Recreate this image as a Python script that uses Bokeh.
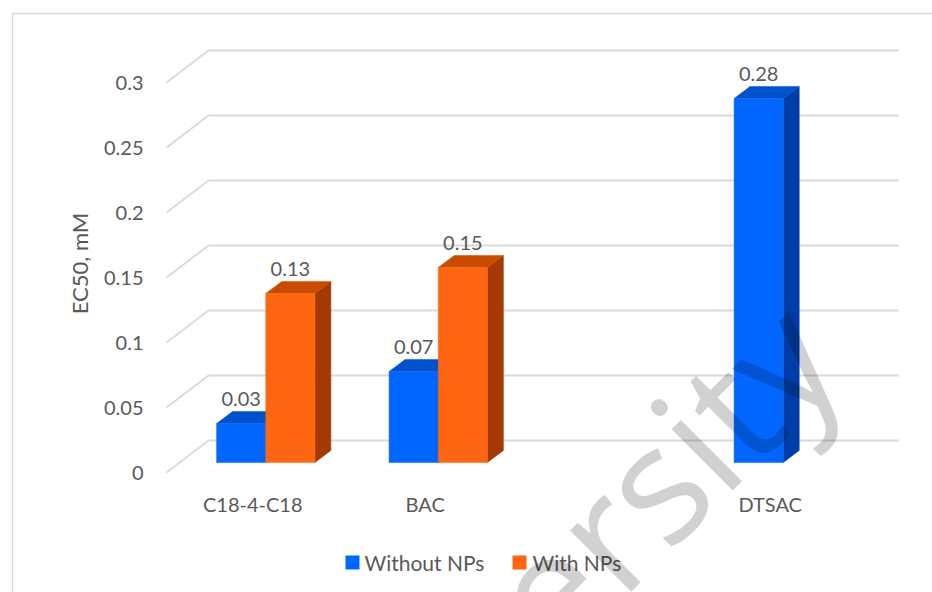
import math
from bokeh.plotting import figure
from bokeh.models import Range1d
from bokeh.core.properties import value
from bokeh.embed import file_html
from bokeh.resources import INLINE

# ---- data -------------------------------------------------------------
categories = ["C18-4-C18", "BAC", "", "DTSAC"]
without_nps = [0.03, 0.07, None, 0.28]
with_nps = [0.13, 0.15, None, None]
series_names = ["Without NPs", "With NPs"]
y_ticks = [0, 0.05, 0.1, 0.15, 0.2, 0.25, 0.3]
y_tick_labels = ["0", "0.05", "0.1", "0.15", "0.2", "0.25", "0.3"]
y_title = "EC50, mM"
watermark = "University"

# ---- layout / style ---------------------------------------------------
W, H = 932, 592
SLOT_PX = 172.5          # pixels per category slot
VAL_PX = 1300.0          # pixels per unit of EC50
ORIGIN_X, ORIGIN_Y = 166.0, 472.0   # screen position of (slot 0, value 0) on the front edge
DX = 42.0 / SLOT_PX      # floor depth (x)
DY = 32.0 / VAL_PX       # floor depth (y)
F0, F1 = 0.31, 0.69      # bar front/back positions within the floor depth
BAR_W = 0.285            # bar width in slots
FONT = "Lato"
TXT = "#595959"
GRID = "#D9D9D9"

FACES = {
    "Without NPs": ("#0066FF", "#0052CC", "#003DA8"),
    "With NPs": ("#FF6611", "#C94B00", "#A33A04"),
}


def px(x, y):
    """Screen pixel (from top-left) to data coordinates."""
    return (x - ORIGIN_X) / SLOT_PX, (ORIGIN_Y - y) / VAL_PX


x0, y1 = px(0, 0)
x1, y0 = px(W, H)

p = figure(width=W, height=H, output_backend="svg", toolbar_location=None,
           x_range=Range1d(x0, x1), y_range=Range1d(y0, y1),
           min_border=0, outline_line_color=None)
p.axis.visible = False
p.grid.visible = False
p.background_fill_color = "white"
p.border_fill_color = "white"

# chart area border
bx, by = zip(*[px(12, 600), px(12, 13), px(940, 13)])
p.line(list(bx), list(by), line_color=GRID, line_width=1.5)

# floor diagonals and back-wall gridlines
n = len(categories)
for t in y_ticks:
    p.line([0, DX], [t, t + DY], line_color=GRID, line_width=1.8)
    p.line([DX, DX + n], [t + DY, t + DY], line_color=GRID, line_width=1.8)

# tick labels
tx, _ = px(143, 0)
p.text(x=[tx] * len(y_ticks), y=y_ticks, text=y_tick_labels,
       text_align="right", text_baseline="middle",
       text_font=value(FONT), text_font_size="20px", text_color=TXT)

# category labels
cx = [i + 0.5 for i in range(n)]
_, cy = px(0, 503)
p.text(x=cx, y=[cy] * n, text=categories, text_align="center",
       text_baseline="middle", text_font=value(FONT), text_font_size="20px",
       text_color=TXT)

# axis title
ax, ay = px(79, 263)
p.text(x=[ax], y=[ay], text=[y_title], angle=math.pi / 2, text_align="center",
       text_baseline="middle", text_font=value(FONT), text_font_size="22px",
       text_color=TXT)

# 3D bars
lab_x, lab_y, lab_t = [], [], []
for i in range(n):
    c = i + 0.5
    for k, (name, vals) in enumerate(zip(series_names, [without_nps, with_nps])):
        v = vals[i]
        if v is None:
            continue
        xl = c - BAR_W + k * BAR_W
        xr = xl + BAR_W
        front_c, top_c, side_c = FACES[name]
        fx = [xl + F0 * DX, xr + F0 * DX, xr + F0 * DX, xl + F0 * DX]
        fy = [F0 * DY, F0 * DY, v + F0 * DY, v + F0 * DY]
        topx = [xl + F0 * DX, xr + F0 * DX, xr + F1 * DX, xl + F1 * DX]
        topy = [v + F0 * DY, v + F0 * DY, v + F1 * DY, v + F1 * DY]
        sx = [xr + F0 * DX, xr + F1 * DX, xr + F1 * DX, xr + F0 * DX]
        sy = [F0 * DY, F1 * DY, v + F1 * DY, v + F0 * DY]
        p.patch(sx, sy, fill_color=side_c, line_color=side_c, line_width=0.5)
        p.patch(topx, topy, fill_color=top_c, line_color=top_c, line_width=0.5)
        p.patch(fx, fy, fill_color=front_c, line_color=front_c, line_width=0.5)
        lab_x.append((xl + xr) / 2 + F0 * DX)
        lab_y.append(v + F0 * DY + 25.0 / VAL_PX)
        lab_t.append(f"{v:.2f}")

p.text(x=lab_x, y=lab_y, text=lab_t, text_align="center", text_baseline="middle",
       text_font=value(FONT), text_font_size="20px", text_color=TXT)

# legend
for name, (sqx, tx_px) in zip(series_names, [(352, 364), (519, 532)]):
    qx, qy = px(sqx, 562)
    p.rect(x=[qx], y=[qy], width=14.0 / SLOT_PX, height=14.0 / VAL_PX,
           fill_color=FACES[name][0], line_color=None)
    lx, ly = px(tx_px, 562)
    p.text(x=[lx], y=[ly], text=[name], text_align="left", text_baseline="middle",
           text_font=value(FONT), text_font_size="21px", text_color=TXT)

# watermark
wx, wy = px(805, 328)
p.text(x=[wx], y=[wy], text=[watermark], angle=math.pi / 4, text_align="right",
       text_baseline="alphabetic", text_font=value("Open Sans"), text_font_size="162px",
       text_color="black", text_alpha=0.18)

open("out.html", "w").write(file_html(p, INLINE))
